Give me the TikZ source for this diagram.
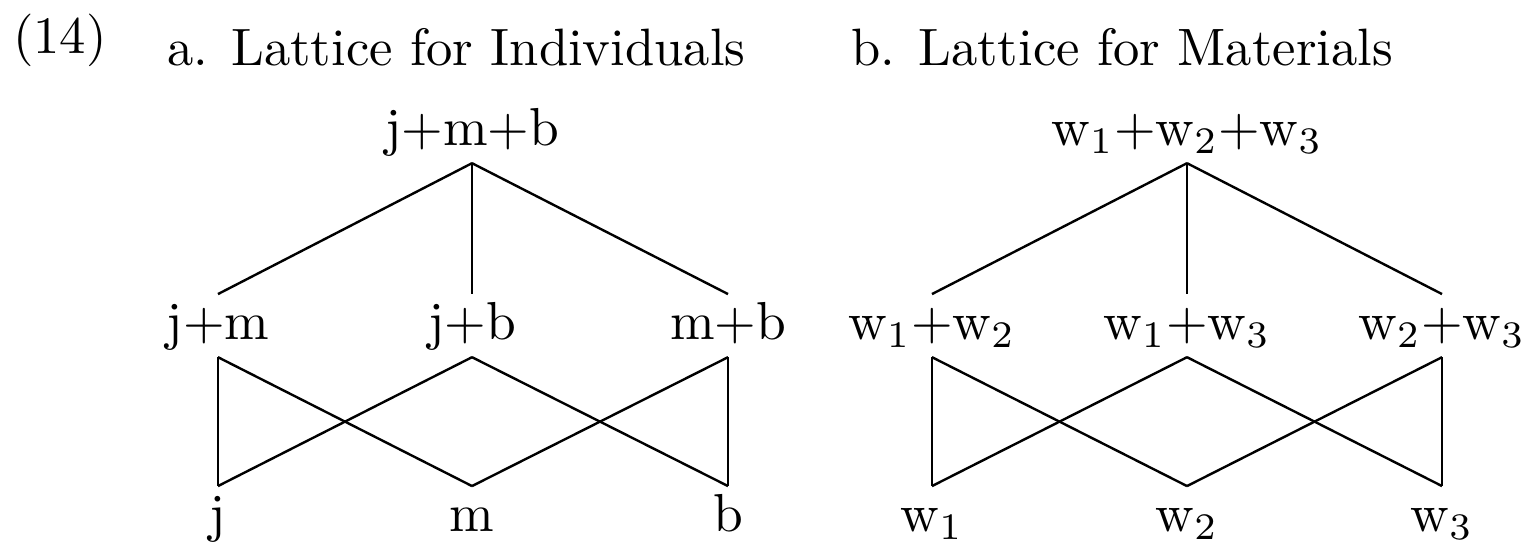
\documentclass[tikz,border=0pt]{standalone}
\begin{document}
\begin{tikzpicture}[x=0.1869pt,y=-0.1869pt,
  lbl/.style={inner sep=0pt,outer sep=1.4pt,text height=7pt,text depth=2pt,anchor=base},
  ttl/.style={inner sep=0pt,anchor=base west,font=\fontsize{9.83pt}{12pt}\selectfont},
  edge/.style={line width=0.45pt}]
\useasboundingbox (0,0) rectangle (1526,543);
% titles
\node[ttl] (num) at (12,53) {(14)};
\node[ttl] (ta) at (166,65) {a. Lattice for Individuals};
\node[ttl] (tb) at (850,65) {b. Lattice for Materials};
% panel a
\node[lbl] (jmb) at (472,145) {j+m+b};
\node[lbl] (jm) at (218,339) {j+m};
\node[lbl] (jb) at (472,339) {j+b};
\node[lbl] (mb) at (728,339) {m+b};
\node[lbl] (j) at (218,531) {j};
\node[lbl] (m) at (472,531) {m};
\node[lbl] (b) at (728,531) {b};
\draw[edge] (jmb.south) -- (jm.north);
\draw[edge] (jmb.south) -- (jb.north);
\draw[edge] (jmb.south) -- (mb.north);
\draw[edge] (jm.south) -- (j.north);
\draw[edge] (jm.south) -- (m.north);
\draw[edge] (jb.south) -- (j.north);
\draw[edge] (jb.south) -- (b.north);
\draw[edge] (mb.south) -- (m.north);
\draw[edge] (mb.south) -- (b.north);
% panel b
\node[lbl] (w123) at (1187,145) {w$_1$+w$_2$+w$_3$};
\node[lbl] (w12) at (932,339) {w$_1$+w$_2$};
\node[lbl] (w13) at (1187,339) {w$_1$+w$_3$};
\node[lbl] (w23) at (1442,339) {w$_2$+w$_3$};
\node[lbl] (w1) at (932,531) {w$_1$};
\node[lbl] (w2) at (1187,531) {w$_2$};
\node[lbl] (w3) at (1442,531) {w$_3$};
\draw[edge] (w123.south) -- (w12.north);
\draw[edge] (w123.south) -- (w13.north);
\draw[edge] (w123.south) -- (w23.north);
\draw[edge] (w12.south) -- (w1.north);
\draw[edge] (w12.south) -- (w2.north);
\draw[edge] (w13.south) -- (w1.north);
\draw[edge] (w13.south) -- (w3.north);
\draw[edge] (w23.south) -- (w2.north);
\draw[edge] (w23.south) -- (w3.north);
\end{tikzpicture}
\end{document}
